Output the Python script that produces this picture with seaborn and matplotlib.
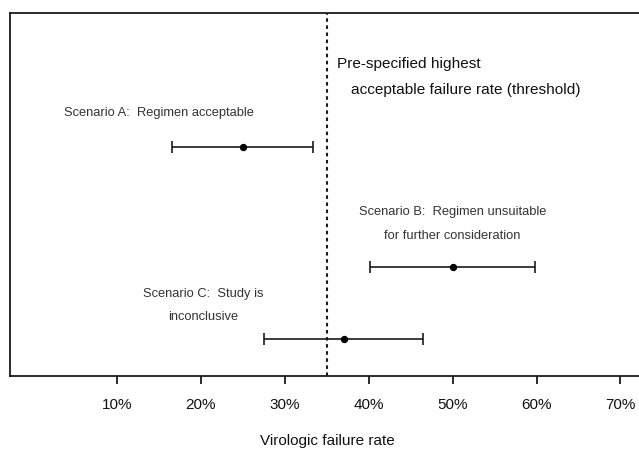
import matplotlib
matplotlib.use("Agg")
import matplotlib.pyplot as plt
import seaborn as sns
import pandas as pd

# Data
scenarios = ["A", "B", "C"]
estimates = [25.0, 50.0, 37.0]
ci_low = [16.5, 40.1, 27.5]
ci_high = [33.4, 59.8, 46.5]
ypos = [0.632, 0.299, 0.101]
threshold = 35.0
xticks = [10, 20, 30, 40, 50, 60, 70]
xtick_labels = ["10%", "20%", "30%", "40%", "50%", "60%", "70%"]
scenario_labels = ["Scenario A:  Regimen acceptable",
                   "Scenario B:  Regimen unsuitable\nfor further consideration",
                   "Scenario C:  Study is\ninconclusive"]
label_x = [15.0, 50.0, 20.3]
label_y = [0.7245, 0.419, 0.194]
threshold_lines = ["Pre-specified highest", "acceptable failure rate (threshold)"]
threshold_x = [36.19, 37.86]
threshold_y = [0.8595, 0.788]
xlabel = "Virologic failure rate"

sns.set_style("white")
plt.rcParams["font.family"] = ["Liberation Sans", "DejaVu Sans"]

df = pd.DataFrame({"scenario": scenarios, "est": estimates,
                   "lo": ci_low, "hi": ci_high, "y": ypos})

fig = plt.figure(figsize=(6.39, 4.49), dpi=100)
ax = fig.add_axes([10 / 639, 73 / 449, 635 / 639, 363 / 449])

ink = "#1a1a1a"
ax.errorbar(df["est"], df["y"],
            xerr=[df["est"] - df["lo"], df["hi"] - df["est"]],
            fmt="none", ecolor=ink, elinewidth=1.2, capsize=4.3, capthick=1.2)
sns.scatterplot(data=df, x="est", y="y", ax=ax, color="black", s=28,
                edgecolor="black", linewidth=0, zorder=3, legend=False)

ax.axvline(threshold, color=ink, lw=1.5, linestyle=(0, (1.7, 1.7)))

txt = "#333333"
for s, x, y in zip(scenario_labels, label_x, label_y):
    ax.text(x, y, s, ha="center", va="center", fontsize=9.3, color=txt,
            linespacing=2.25)
for s, x, y in zip(threshold_lines, threshold_x, threshold_y):
    ax.text(x, y, s, ha="left", va="center", fontsize=11.1, color="#111111")

ax.set_xlim(-2.75, 72.93)
ax.set_ylim(0, 1)
ax.set_xticks(xticks)
ax.set_xticklabels(xtick_labels, fontsize=11, color="#111111")
ax.set_yticks([])
ax.set_xlabel(xlabel, fontsize=11, color="#111111", labelpad=16)
ax.set_ylabel("")
ax.tick_params(axis="x", direction="out", length=6, width=1.3,
               color=ink, pad=10, bottom=True)
for side in ["left", "top", "bottom", "right"]:
    ax.spines[side].set_visible(True)
    ax.spines[side].set_color(ink)
    ax.spines[side].set_linewidth(1.3)

fig.savefig("out.png", dpi=100)
